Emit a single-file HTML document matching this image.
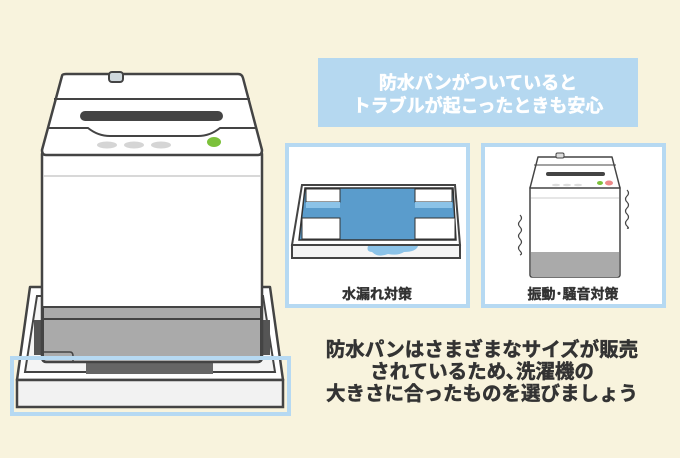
<!DOCTYPE html>
<html><head><meta charset="utf-8"><style>
html,body{margin:0;padding:0;background:#f8f3dd;}
svg{display:block}
text{font-family:"Liberation Sans","Noto Sans CJK JP",sans-serif;font-weight:bold;}
</style></head><body>
<svg width="680" height="458" viewBox="0 0 680 458" xmlns="http://www.w3.org/2000/svg">
<rect width="680" height="458" fill="#f8f3dd"/>
<path d="M30 287 L270 287 L283 380 L17 380 Z" fill="#fff" stroke="#444" stroke-width="2.5" stroke-linejoin="round"/>
<rect x="17" y="380" width="266" height="27" fill="#f2f2f2" stroke="#444" stroke-width="2.5"/>
<path d="M37 296 L263 296 L275 372 L25 372 Z" fill="#f4f4f4" stroke="#444" stroke-width="2"/>
<rect x="34" y="320" width="10" height="35" fill="#555"/>
<rect x="260" y="320" width="10" height="35" fill="#555"/>
<rect x="86" y="363" width="127" height="11" fill="#666"/>
<rect x="42" y="150" width="220" height="212" rx="4" fill="#fff" stroke="#444" stroke-width="2.5"/>
<line x1="43" y1="176" x2="261" y2="176" stroke="#ccc" stroke-width="1.5"/>
<path d="M43 307 L261 307 L261 358 Q261 362 257 362 L47 362 Q43 362 43 358 Z" fill="#aaa" stroke="#444" stroke-width="2"/>
<line x1="43" y1="319" x2="261" y2="319" stroke="#444" stroke-width="2"/>
<path d="M43 352 L70 352 Q73 352 73 356 L73 362" fill="none" stroke="#444" stroke-width="1.5"/>
<path d="M62 76 Q62 74 66 74 L238 74 Q242 74 243 78 L262 150 Q262 155 258 155 L46 155 Q42 155 42 150 Z" fill="#fff" stroke="#444" stroke-width="2.5" stroke-linejoin="round"/>
<line x1="54" y1="99" x2="250" y2="99" stroke="#444" stroke-width="2"/>
<rect x="80" y="111" width="143" height="10" rx="5" fill="#444"/>
<path d="M48 128 L88 128 Q98 136 110 136 L198 136 Q210 136 220 128 L256 128" fill="none" stroke="#444" stroke-width="2"/>
<rect x="109" y="72" width="14" height="10" rx="3" fill="#cfd8dc" stroke="#444" stroke-width="2"/>
<ellipse cx="107" cy="145" rx="10" ry="3.5" fill="#d5d5d5"/>
<ellipse cx="134" cy="145" rx="10" ry="3.5" fill="#d5d5d5"/>
<ellipse cx="161" cy="145" rx="10" ry="3.5" fill="#d5d5d5"/>
<ellipse cx="214" cy="142" rx="7" ry="5" fill="#7cc13b"/>
<rect x="12" y="358" width="277" height="56" fill="none" stroke="#b6d9f2" stroke-width="4"/>
<rect x="318" y="58" width="320" height="69" fill="#b5d8f0"/>
<text x="478" y="89" fill="#fff" stroke="#fff" stroke-width="0.5" font-size="18" text-anchor="middle">防水パンがついていると</text>
<text x="478" y="112" fill="#fff" stroke="#fff" stroke-width="0.5" font-size="18" text-anchor="middle">トラブルが起こったときも安心</text>
<rect x="287" y="145" width="181" height="161" fill="#fff" stroke="#b6d9f2" stroke-width="4"/>
<path d="M302 185 L455 185 L460 245 L292 245 Z" fill="#fff" stroke="#444" stroke-width="2"/>
<rect x="292" y="245" width="168" height="13" fill="#f4f4f4" stroke="#444" stroke-width="2"/>
<path d="M305 188 L453 188 L456 240 L299 240 Z" fill="#5a9ccc" stroke="#333" stroke-width="1.5"/>
<rect x="306" y="189" width="34" height="13" fill="#fff" stroke="#333" stroke-width="1"/>
<rect x="415" y="189" width="37" height="13" fill="#fff" stroke="#333" stroke-width="1"/>
<rect x="302" y="218" width="38" height="21" fill="#fff" stroke="#333" stroke-width="1"/>
<rect x="415" y="218" width="40" height="21" fill="#fff" stroke="#333" stroke-width="1"/>
<rect x="306" y="202" width="34" height="6" fill="#8cc3e8"/>
<rect x="415" y="202" width="37" height="6" fill="#8cc3e8"/>
<path d="M368 246 Q366 252 372 252 Q378 258 388 254 Q398 256 404 252 Q416 252 418 246 Z" fill="#8cc3e8"/>
<text x="377" y="299" fill="#333" stroke="#333" stroke-width="0.4" font-size="14" text-anchor="middle">水漏れ対策</text>
<rect x="483" y="145" width="181" height="161" fill="#fff" stroke="#b6d9f2" stroke-width="4"/>
<rect x="530" y="186" width="90" height="91" rx="2" fill="#fff" stroke="#444" stroke-width="1.5"/>
<line x1="531" y1="198" x2="619" y2="198" stroke="#ccc" stroke-width="1"/>
<path d="M531 252 L619 252 L619 275 Q619 277 617 277 L533 277 Q531 277 531 275 Z" fill="#aaa"/>
<path d="M538 157 L612 157 L620 188 L530 188 Z" fill="#fff" stroke="#444" stroke-width="1.5" stroke-linejoin="round"/>
<line x1="534" y1="165" x2="616" y2="165" stroke="#444" stroke-width="1"/>
<rect x="546" y="172" width="59" height="4" rx="2" fill="#444"/>
<rect x="556" y="153" width="8" height="5" rx="1.5" fill="#ddd" stroke="#444" stroke-width="1"/>
<ellipse cx="600" cy="183" rx="3" ry="2" fill="#7cc13b"/>
<ellipse cx="609" cy="183" rx="4" ry="2.5" fill="#ee8a8a"/>
<ellipse cx="556" cy="185" rx="4" ry="1.2" fill="#ddd"/>
<ellipse cx="567" cy="185" rx="4" ry="1.2" fill="#ddd"/>
<ellipse cx="578" cy="185" rx="4" ry="1.2" fill="#ddd"/>
<path d="M520 215 q3 3 0 6 q-3 3 0 6 q3 3 0 6 q-3 3 0 6 q3 3 0 6 q-3 3 0 6 q3 3 0 4" fill="none" stroke="#444" stroke-width="1.2"/>
<path d="M627 190 q3 3 0 6 q-3 3 0 6 q3 3 0 6 q-3 3 0 6 q3 3 0 6 q-3 3 0 6 q3 3 0 2" fill="none" stroke="#444" stroke-width="1.2"/>
<text x="573" y="299" fill="#333" stroke="#333" stroke-width="0.4" font-size="14" text-anchor="middle">振動･騒音対策</text>
<text x="482" y="356" fill="#333" stroke="#333" stroke-width="0.5" font-size="19.5" text-anchor="middle">防水パンはさまざまなサイズが販売</text>
<text x="482" y="378" fill="#333" stroke="#333" stroke-width="0.5" font-size="19.5" text-anchor="middle">されているため､洗濯機の</text>
<text x="482" y="400" fill="#333" stroke="#333" stroke-width="0.5" font-size="19.5" text-anchor="middle">大きさに合ったものを選びましょう</text>
</svg>
</body></html>
